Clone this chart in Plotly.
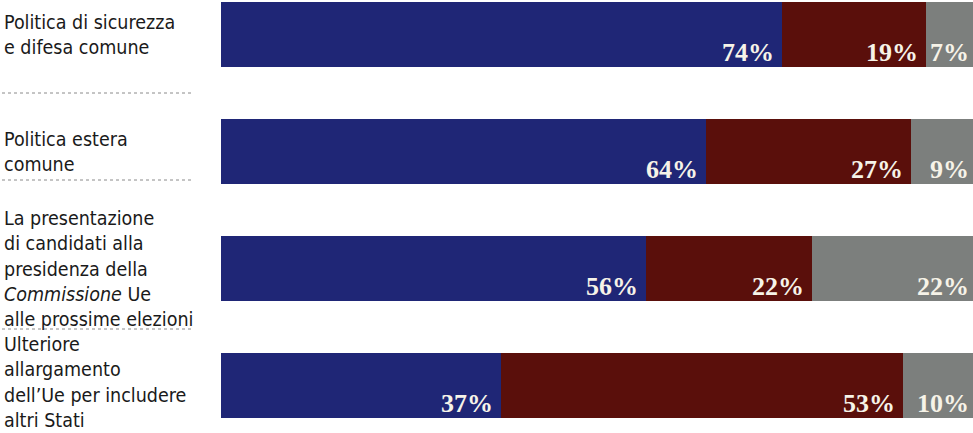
import plotly.graph_objects as go

# ---- data ----
categories = ["sicurezza", "estera", "commissione", "allargamento"]
labels = [
    "Politica di sicurezza<br>e difesa comune",
    "Politica estera<br>comune",
    "La presentazione<br>di candidati alla<br>presidenza della<br><i>Commissione</i> Ue<br>alle prossime elezioni",
    "Ulteriore<br>allargamento<br>dell’Ue per includere<br>altri Stati",
]
favorevoli = [74, 64, 56, 37]
contrari = [19, 27, 22, 53]
non_sa = [7, 9, 22, 10]

series = [
    ("Favorevoli", favorevoli, "#1f2676"),
    ("Contrari", contrari, "#5a0f0b"),
    ("Non sa", non_sa, "#7c7f7d"),
]

W, H = 973, 433
LEFT = 221
XMAX = 99.2

fig = go.Figure()
for name, vals, col in series:
    fig.add_trace(go.Bar(
        y=categories, x=vals, name=name, orientation="h",
        marker=dict(color=col, line=dict(width=0)),
        hoverinfo="skip",
    ))

annotations = []
# value labels at the right end of each segment, bottom of the bar
for i, cat in enumerate(categories):
    cum = 0
    for si, (name, vals, col) in enumerate(series):
        cum += vals[i]
        annotations.append(dict(
            x=cum / XMAX, y=cat, xref="paper", yref="y",
            text=f"{vals[i]}%", showarrow=False,
            xanchor="right", yanchor="bottom",
            xshift=-8 if si == 2 else -6, yshift=-34,
            font=dict(family="Liberation Serif, Times New Roman, serif",
                      size=26, color="#f6f3e8", weight="bold"),
        ))
# left category labels
for i, cat in enumerate(categories):
    annotations.append(dict(
        x=0, y=cat, xref="paper", yref="y",
        text=labels[i], showarrow=False,
        xanchor="left", yanchor="middle", align="left",
        xshift=-LEFT + 2, yshift=3 if i == len(categories) - 1 else 0,
        font=dict(family="DejaVu Sans Condensed, Roboto, sans-serif",
                  size=19.5, color="#1a1a1a"),
    ))

# dotted separators under label blocks (pixel positions from top)
shapes = []
for py in [93, 180, 329]:
    yp = 1 - py / H
    shapes.append(dict(
        type="line", xref="paper", yref="paper",
        x0=(2 - LEFT) / (W - LEFT), x1=(192 - LEFT) / (W - LEFT),
        y0=yp, y1=yp,
        line=dict(color="#8a8a8a", width=1, dash="dot"),
    ))

fig.update_layout(
    width=W, height=H,
    barmode="stack",
    bargap=0.444,
    showlegend=False,
    margin=dict(l=LEFT, r=0, t=0, b=0),
    paper_bgcolor="white", plot_bgcolor="white",
    xaxis=dict(range=[0, XMAX], visible=False, fixedrange=True),
    yaxis=dict(range=[3.406, -0.295], type="category", visible=False,
               categoryorder="array", categoryarray=categories),
    annotations=annotations,
    shapes=shapes,
)

fig.write_html("out.html",
               config={"displayModeBar": False, "staticPlot": True},
               post_script="document.body.style.margin='0';document.body.style.overflow='hidden';")
